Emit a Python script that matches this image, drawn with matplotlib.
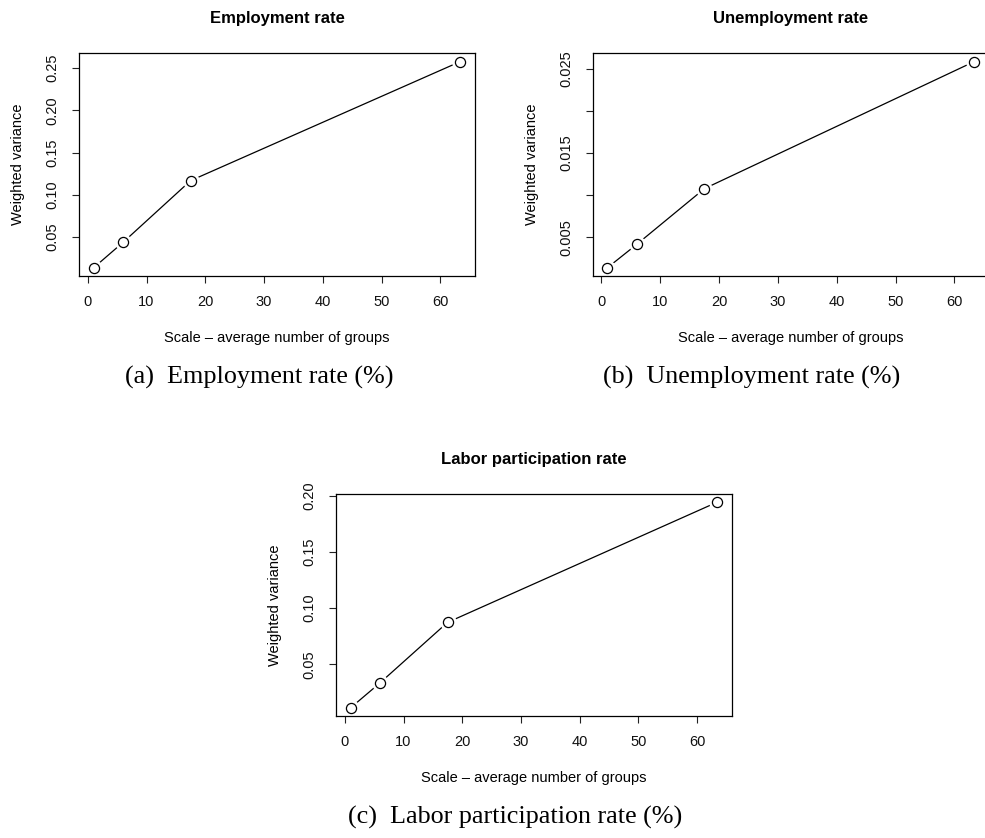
import numpy as np
import matplotlib
matplotlib.use("Agg")
import matplotlib.pyplot as plt

plt.rcParams['font.family'] = ['Liberation Sans', 'DejaVu Sans']

# data
scale = [1, 6, 17.5, 63.4]
emp_var = [0.0136, 0.0437, 0.1168, 0.2579]
unemp_var = [0.00139, 0.00417, 0.01078, 0.02587]
labor_var = [0.0112, 0.0334, 0.0873, 0.1944]

titles = ['Employment rate', 'Unemployment rate', 'Labor participation rate']
captions = ['(a)  Employment rate (%)', '(b)  Unemployment rate (%)',
            '(c)  Labor participation rate (%)']
xlab = 'Scale \u2013 average number of groups'
ylab = 'Weighted variance'

yticks = [[0.05, 0.10, 0.15, 0.20, 0.25],
          [0.005, 0.010, 0.015, 0.020, 0.025],
          [0.05, 0.10, 0.15, 0.20]]
ytick_labels = [['0.05', '0.10', '0.15', '0.20', '0.25'],
                ['0.005', '', '0.015', '', '0.025'],
                ['0.05', '0.10', '0.15', '0.20']]

W, H = 985, 838
fig = plt.figure(figsize=(W / 100, H / 100), dpi=100)

def fx(x):
    return x / W

def fy(y):
    return 1 - y / H

# axes boxes in pixels: left, top, right, bottom
boxes = [(79, 53.3, 475, 276), (592.7, 53.3, 989, 276), (336, 494, 731.7, 716)]
cap_x = [259.5, 752, 515.5]
series = [emp_var, unemp_var, labor_var]

for i in range(3):
    l, t, r, b = boxes[i]
    ax = fig.add_axes([fx(l), fy(b), (r - l) / W, (b - t) / H])
    y = series[i]
    ax.plot(scale, y, color='black', lw=0.9, zorder=1)
    ax.plot(scale, y, 'o', ms=11, mfc='white', mec='white', zorder=2)
    ax.plot(scale, y, 'o', ms=7.3, mfc='white', mec='black', mew=0.9, zorder=3)
    xr = max(scale) - min(scale)
    ax.set_xlim(min(scale) - 0.04 * xr, max(scale) + 0.04 * xr)
    yr = max(y) - min(y)
    ax.set_ylim(min(y) - 0.04 * yr, max(y) + 0.04 * yr)
    ax.set_xticks([0, 10, 20, 30, 40, 50, 60])
    ax.set_yticks(yticks[i])
    ax.set_yticklabels(ytick_labels[i], rotation=90, va='center')
    ax.tick_params(direction='out', length=5.3, width=0.8, labelsize=10.5,
                   pad=8.5, colors='#222222', labelcolor='#111111')
    for s in ax.spines.values():
        s.set_linewidth(0.9)

    cx = (l + r) / 2
    if i == 1:
        cx = 790.8
    fig.text(fx(cx), fy(t - 35), titles[i], ha='center', va='center',
             fontsize=12, fontweight='bold')
    fig.text(fx(cx), fy(b + 62), xlab, ha='center', va='center', fontsize=10.5)
    fig.text(fx(l - 61), fy((t + b) / 2), ylab, ha='center', va='center',
             rotation=90, fontsize=10.5)
    fig.text(fx(cap_x[i]), fy(b + 101), captions[i], ha='center', va='center',
             fontsize=18.8, family='Liberation Serif')

fig.savefig('out.png', dpi=100)
